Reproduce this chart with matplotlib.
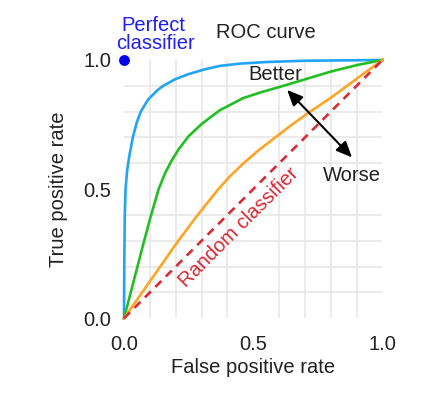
import matplotlib
matplotlib.use("Agg")
import matplotlib.pyplot as plt
from matplotlib.patches import FancyArrowPatch

plt.rcParams.update(
    {
        "font.family": ["Liberation Sans", "DejaVu Sans"],
        "font.size": 14.5,
        "text.color": "#222222",
        "axes.labelcolor": "#222222",
        "xtick.color": "#222222",
        "ytick.color": "#222222",
    }
)

# colours
C_BLUE = "#22a4f5"
C_GREEN = "#22bf22"
C_ORANGE = "#ffa424"
C_RED = "#d92a35"
C_TEXT_BLUE = "#1f1ff0"

# ROC curves (false positive rate, true positive rate)
fpr_good = [0, 0.001, 0.003, 0.006, 0.012, 0.02, 0.034, 0.049, 0.065, 0.094,
            0.133, 0.152, 0.197, 0.249, 0.313, 0.371, 0.45, 0.55, 0.7, 1.0]
tpr_good = [0, 0.2, 0.4, 0.5, 0.57, 0.625, 0.70, 0.757, 0.80, 0.848,
            0.886, 0.90, 0.925, 0.945, 0.964, 0.977, 0.986, 0.992, 0.997, 1.0]

fpr_mid = [0, 0.026, 0.052, 0.078, 0.105, 0.134, 0.158, 0.184, 0.212, 0.25,
           0.30, 0.37, 0.46, 0.53, 0.6, 0.7, 0.8, 0.9, 1.0]
tpr_mid = [0, 0.1, 0.2, 0.3, 0.4, 0.5, 0.56, 0.61, 0.655, 0.705,
           0.752, 0.805, 0.852, 0.875, 0.895, 0.925, 0.955, 0.98, 1.0]

fpr_weak = [0, 0.07, 0.14, 0.21, 0.285, 0.365, 0.41, 0.462, 0.52, 0.585,
            0.65, 0.72, 0.795, 0.87, 0.935, 1.0]
tpr_weak = [0, 0.1, 0.2, 0.3, 0.4, 0.5, 0.55, 0.6, 0.65, 0.7,
            0.75, 0.8, 0.85, 0.905, 0.953, 1.0]

fpr_random = [0, 1]
tpr_random = [0, 1]

perfect_point = (0, 1)
ticks = [0.0, 0.5, 1.0]
grid_ticks = [i / 10 for i in range(11)]

fig = plt.figure(figsize=(4.47, 3.93), dpi=100)
ax = fig.add_axes([0.2774, 0.1901, 0.5783, 0.6573])

ax.set_xlim(0, 1)
ax.set_ylim(0, 1)

# light grid every 0.1, no frame
ax.set_xticks(grid_ticks, minor=True)
ax.set_yticks(grid_ticks, minor=True)
ax.grid(True, which="minor", color="#e8e8e8", lw=1.2)
ax.set_axisbelow(True)
for s in ax.spines.values():
    s.set_visible(False)

ax.set_xticks(ticks)
ax.set_yticks(ticks)
ax.set_xticklabels([f"{t:.1f}" for t in ticks])
ax.set_yticklabels([f"{t:.1f}" for t in ticks])
ax.tick_params(axis="x", which="both", length=0, pad=12)
ax.tick_params(axis="y", which="both", length=0, pad=9)

# curves
lw = 1.9
ax.plot(fpr_good, tpr_good, color=C_BLUE, lw=lw, clip_on=False, zorder=3,
        solid_joinstyle="round")
ax.plot(fpr_mid, tpr_mid, color=C_GREEN, lw=lw, clip_on=False, zorder=3,
        solid_joinstyle="round")
ax.plot(fpr_weak, tpr_weak, color=C_ORANGE, lw=lw, clip_on=False, zorder=3,
        solid_joinstyle="round")
ax.plot(fpr_random, tpr_random, color=C_RED, lw=lw, ls=(0, (3.2, 2.4)),
        clip_on=False, zorder=4)

ax.plot(*perfect_point, "o", color="#0000ee", ms=6.8, clip_on=False, zorder=5)

# annotations
ax.text(0.112, 1.135, "Perfect", color=C_TEXT_BLUE, ha="center", va="center")
ax.text(0.120, 1.065, "classifier", color=C_TEXT_BLUE, ha="center", va="center")
ax.text(0.55, 1.105, "ROC curve", ha="center", va="center")
ax.text(0.585, 0.945, "Better", ha="center", va="center")
ax.text(0.882, 0.551, "Worse", ha="center", va="center")
ax.text(0.445, 0.352, "Random classifier", color=C_RED, rotation=45,
        ha="center", va="center", rotation_mode="anchor")

arrow = FancyArrowPatch(
    (0.631, 0.884), (0.882, 0.623),
    arrowstyle="<|-|>,head_length=0.95,head_width=0.42",
    mutation_scale=10, color="black", lw=1.5, shrinkA=0, shrinkB=0, zorder=6,
)
ax.add_patch(arrow)

ax.set_xlabel("False positive rate")
ax.set_ylabel("True positive rate")
ax.xaxis.set_label_coords(0.5, -0.192)
ax.xaxis.label.set_va("center")
ax.yaxis.set_label_coords(-0.255, 0.5)
ax.yaxis.label.set_va("center")

fig.savefig("out.png", dpi=100)
